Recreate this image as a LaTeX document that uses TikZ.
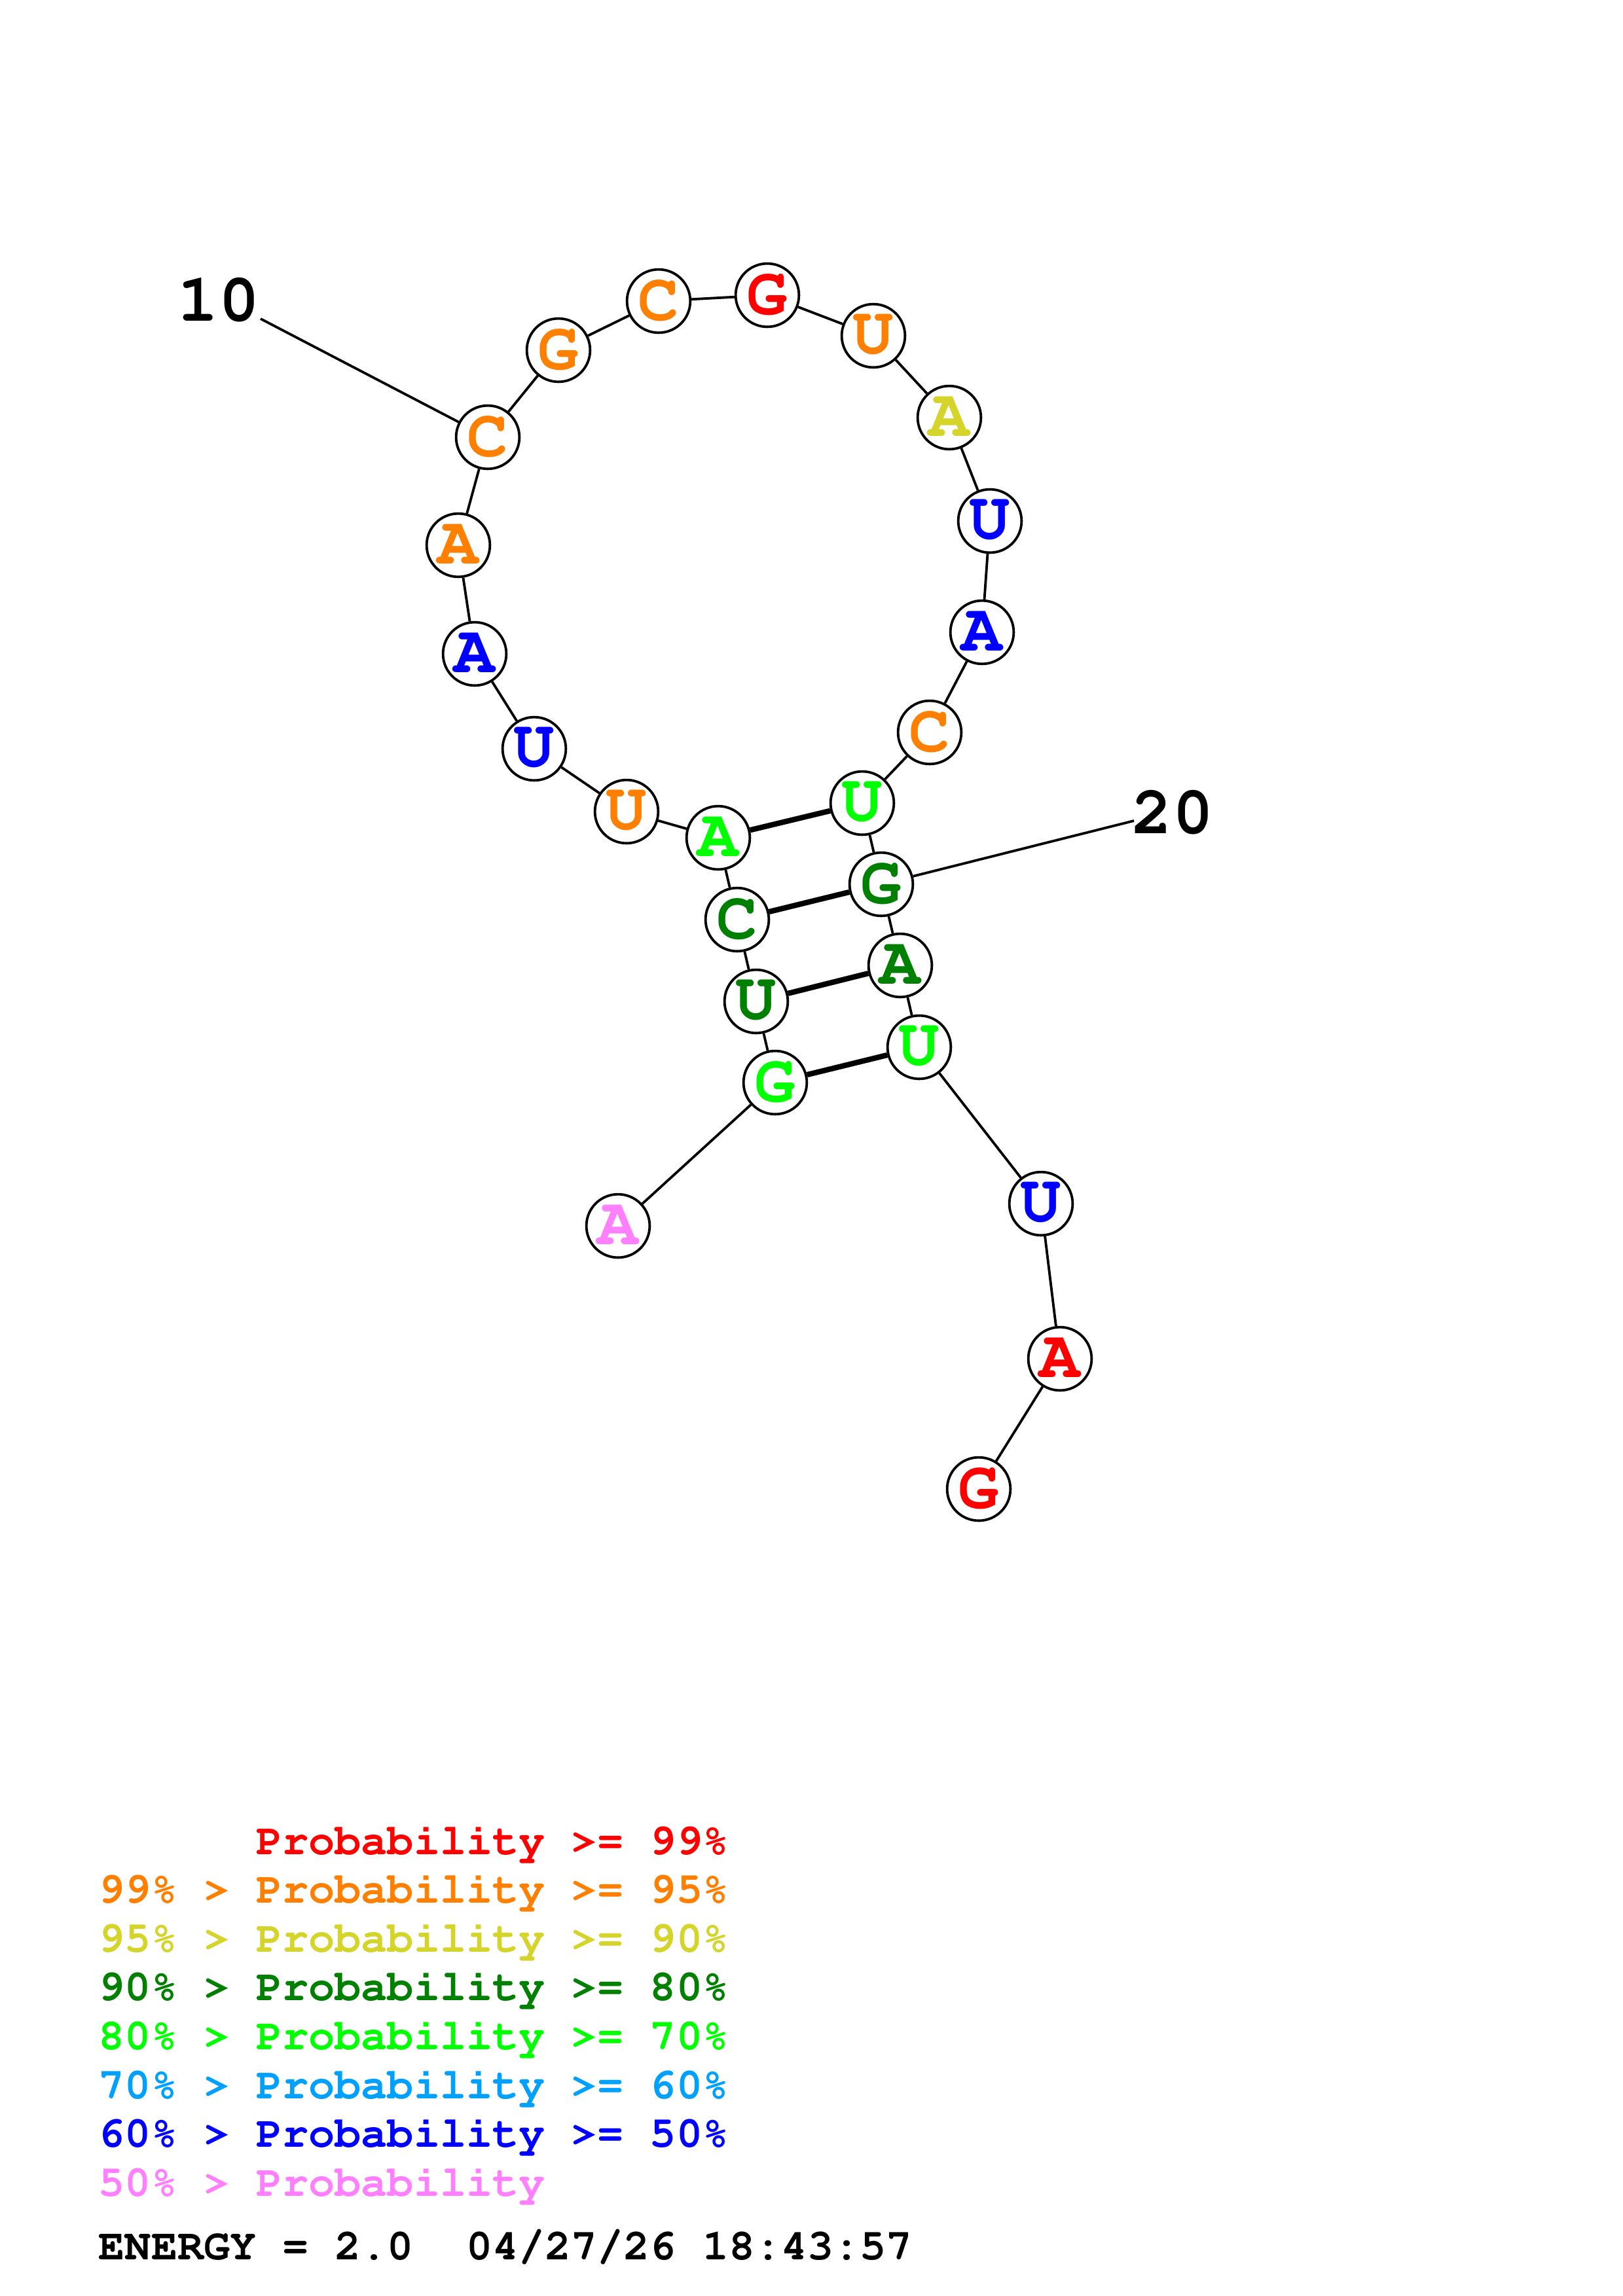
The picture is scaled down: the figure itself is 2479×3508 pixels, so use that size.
\documentclass[tikz,border=0pt]{standalone}
\usepackage[T1]{fontenc}
\definecolor{cred}{HTML}{FF0000}
\definecolor{corange}{HTML}{FF8000}
\definecolor{cyellow}{HTML}{D4D42A}
\definecolor{cdgreen}{HTML}{008000}
\definecolor{clgreen}{HTML}{00FF00}
\definecolor{clblue}{HTML}{00A0FF}
\definecolor{cblue}{HTML}{0000FF}
\definecolor{cpink}{HTML}{FF80FF}
\newcommand\basefont{\fontfamily{pcr}\fontseries{b}\fontsize{25}{25}\selectfont}
\newcommand\legfont{\fontfamily{pcr}\fontseries{b}\fontsize{16.1}{16}\selectfont}
\tikzset{
  nt/.style={circle, draw=black, fill=white, line width=0.92pt, inner sep=0pt,
             minimum size=23.3pt, font=\basefont},
  nr/.style={nt, text=cred},
  no/.style={nt, text=corange},
  ny/.style={nt, text=cyellow},
  ndg/.style={nt, text=cdgreen},
  nlg/.style={nt, text=clgreen},
  nb/.style={nt, text=cblue},
  np/.style={nt, text=cpink},
  bb/.style={line width=0.92pt, black},
  bp/.style={line width=2pt, black},
  numlab/.style={font=\basefont, inner sep=0pt, text=black},
  leg/.style={font=\legfont, inner sep=0pt, anchor=base west}
}
\begin{document}
\begin{tikzpicture}[x=0.2409pt, y=-0.2409pt]
\useasboundingbox[fill=white] (0,0) rectangle (2479,3508);
% nucleotides
\node[np]  (n1)  at (944,1873) {A};
\node[nlg] (n2)  at (1184,1654) {G};
\node[ndg] (n3)  at (1155,1530) {U};
\node[ndg] (n4)  at (1126,1405) {C};
\node[nlg] (n5)  at (1097,1280) {A};
\node[no]  (n6)  at (957,1240) {U};
\node[nb]  (n7)  at (816,1144) {U};
\node[nb]  (n8)  at (725,999) {A};
\node[no]  (n9)  at (700,833) {A};
\node[no]  (n10) at (745,668) {C};
\node[no]  (n11) at (853,535) {G};
\node[no]  (n12) at (1006,460) {C};
\node[nr]  (n13) at (1172,451) {G};
\node[no]  (n14) at (1334,513) {U};
\node[ny]  (n15) at (1450,638) {A};
\node[nb]  (n16) at (1512,796) {U};
\node[nb]  (n17) at (1500,966) {A};
\node[no]  (n18) at (1420,1119) {C};
\node[nlg] (n19) at (1317,1227) {U};
\node[ndg] (n20) at (1346,1351) {G};
\node[ndg] (n21) at (1375,1475) {A};
\node[nlg] (n22) at (1404,1600) {U};
\node[nb]  (n23) at (1590,1839) {U};
\node[nr]  (n24) at (1619,2076) {A};
\node[nr]  (n25) at (1495,2275) {G};
% backbone
\foreach \a/\b in {1/2,2/3,3/4,4/5,5/6,6/7,7/8,8/9,9/10,10/11,11/12,12/13,13/14,14/15,15/16,16/17,17/18,18/19,19/20,20/21,21/22,22/23,23/24,24/25}
  \draw[bb] (n\a) -- (n\b);
% base pairs
\draw[bp] (n5) -- (n19);
\draw[bp] (n4) -- (n20);
\draw[bp] (n3) -- (n21);
\draw[bp] (n2) -- (n22);
% numbering
\node[numlab] (l10) at (334,459) {10};
\coordinate (e10) at (398,487);
\draw[bb] (e10) -- (n10);
\node[numlab] (l20) at (1791,1242) {20};
\coordinate (e20) at (1732,1254);
\draw[bb] (n20) -- (e20);
% legend
\node[leg, text=cred]    (g1) at (150,2833) {\phantom{99\% > }Probability >= 99\%};
\node[leg, text=corange] (g2) at (150,2907.6) {99\% > Probability >= 95\%};
\node[leg, text=cyellow] (g3) at (150,2982.2) {95\% > Probability >= 90\%};
\node[leg, text=cdgreen] (g4) at (150,3056.8) {90\% > Probability >= 80\%};
\node[leg, text=clgreen] (g5) at (150,3131.4) {80\% > Probability >= 70\%};
\node[leg, text=clblue]  (g6) at (150,3206) {70\% > Probability >= 60\%};
\node[leg, text=cblue]   (g7) at (150,3280.6) {60\% > Probability >= 50\%};
\node[leg, text=cpink]   (g8) at (150,3355.2) {50\% > Probability};
\node[leg, text=black]   (en) at (150,3452) {ENERGY = 2.0\ \ 04/27/26 18:43:57};
\end{tikzpicture}
\end{document}
